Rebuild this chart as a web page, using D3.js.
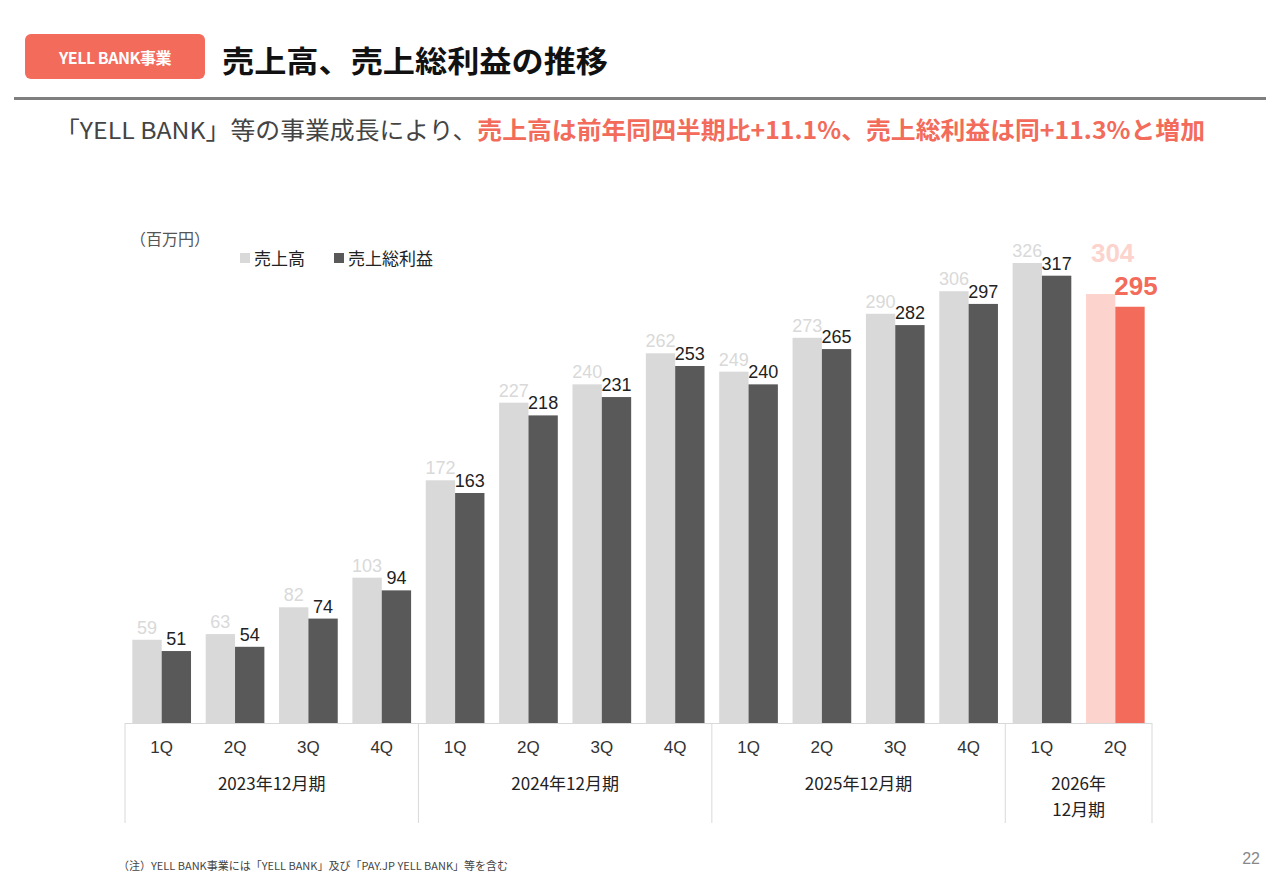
<!DOCTYPE html>
<html><head><meta charset="utf-8">
<script src="https://cdn.jsdelivr.net/npm/d3@7"></script>
<style>body{margin:0;background:#fff}svg{font-family:"Noto Sans CJK JP","Liberation Sans",sans-serif}</style>
</head><body><svg id="c" width="1280" height="886"></svg>
<script>
const quarters=["1Q","2Q","3Q","4Q","1Q","2Q","3Q","4Q","1Q","2Q","3Q","4Q","1Q","2Q"];
const sales=[59,63,82,103,172,227,240,262,249,273,290,306,326,304];
const gross=[51,54,74,94,163,218,231,253,240,265,282,297,317,295];
const years=[["2023年12月期"],["2024年12月期"],["2025年12月期"],["2026年","12月期"]];
const yearSpans=[4,4,4,2];

const g=d3.select("#c");
g.append("rect").attr("x",25).attr("y",34).attr("width",180).attr("height",45).attr("rx",6).attr("fill","#f26b5b");
g.append("text").attr("x",115).attr("y",64).attr("text-anchor","middle").attr("fill","#fff").attr("font-size",16).attr("font-weight","bold").attr("letter-spacing",-0.5).text("YELL BANK事業");
g.append("text").attr("x",222).attr("y",72).attr("font-size",30).attr("font-weight","bold").attr("fill","#111").attr("textLength",386).attr("lengthAdjust","spacingAndGlyphs").text("売上高、売上総利益の推移");
g.append("rect").attr("x",14).attr("y",97).attr("width",1252).attr("height",3).attr("fill","#7f7f7f");
const s2=g.append("text").attr("x",55).attr("y",139).attr("font-size",23.5).attr("textLength",1150).attr("lengthAdjust","spacingAndGlyphs");
s2.append("tspan").attr("fill","#444").text("「YELL BANK」等の事業成長により、");
s2.append("tspan").attr("fill","#f26b5b").attr("font-weight","bold").text("売上高は前年同四半期比+11.1%、売上総利益は同+11.3%と増加");

const x=d3.scaleBand().domain(d3.range(14)).range([125,1152]).paddingInner(0.2).paddingOuter(0.1);
const y=d3.scaleLinear().domain([0,326]).range([723,263]);
const bw=x.bandwidth()/2;
const last=13;
quarters.forEach((q,i)=>{
  const x0=x(i);
  g.append("rect").attr("x",x0).attr("y",y(sales[i])).attr("width",bw).attr("height",y(0)-y(sales[i])).attr("fill",i==last?"#fdd3cd":"#d9d9d9");
  g.append("rect").attr("x",x0+bw).attr("y",y(gross[i])).attr("width",bw).attr("height",y(0)-y(gross[i])).attr("fill",i==last?"#f26b5b":"#595959");
  if(i==last){
    g.append("text").attr("x",x0+bw/2+12).attr("y",y(sales[i])-32).attr("text-anchor","middle").attr("font-size",26).attr("font-weight","bold").attr("fill","#fdd3cd").attr("font-family","Liberation Sans").text(sales[i]);
    g.append("text").attr("x",x0+bw*1.5+6).attr("y",y(gross[i])-12).attr("text-anchor","middle").attr("font-size",26).attr("font-weight","bold").attr("fill","#f26b5b").attr("font-family","Liberation Sans").text(gross[i]);
  } else {
    g.append("text").attr("x",x0+bw/2).attr("y",y(sales[i])-6).attr("text-anchor","middle").attr("font-size",18).attr("fill","#d9d9d9").attr("font-family","Liberation Sans").text(sales[i]);
    g.append("text").attr("x",x0+bw*1.5).attr("y",y(gross[i])-6).attr("text-anchor","middle").attr("font-size",18).attr("fill","#222").attr("font-family","Liberation Sans").text(gross[i]);
  }
  g.append("text").attr("x",x0+bw).attr("y",753).attr("text-anchor","middle").attr("font-size",17).attr("fill","#333").attr("font-family","Liberation Sans").text(q);
});
const step=x.step();
g.append("line").attr("x1",125).attr("x2",1152).attr("y1",723.5).attr("y2",723.5).attr("stroke","#d9d9d9");
let idx=0;
const bounds=[125];
yearSpans.forEach(s=>{idx+=s;bounds.push(125+idx*step);});
bounds.forEach(b=>g.append("line").attr("x1",b).attr("x2",b).attr("y1",723).attr("y2",823).attr("stroke","#d9d9d9"));
years.forEach((lines,k)=>{
  const cx=(bounds[k]+bounds[k+1])/2;
  lines.forEach((t,j)=>g.append("text").attr("x",cx).attr("y",790+j*26).attr("text-anchor","middle").attr("font-size",17).attr("fill","#222").text(t));
});
g.append("text").attr("x",130).attr("y",245).attr("font-size",16).attr("fill","#555").text("（百万円）");
g.append("rect").attr("x",240).attr("y",253).attr("width",10).attr("height",10).attr("fill","#d9d9d9");
g.append("text").attr("x",254).attr("y",265).attr("font-size",17).attr("fill","#222").text("売上高");
g.append("rect").attr("x",334).attr("y",253).attr("width",10).attr("height",10).attr("fill","#595959");
g.append("text").attr("x",348).attr("y",265).attr("font-size",17).attr("fill","#222").text("売上総利益");
g.append("text").attr("x",118).attr("y",870).attr("font-size",11).attr("fill","#444").text("（注）YELL BANK事業には「YELL BANK」及び「PAY.JP YELL BANK」等を含む");
g.append("text").attr("x",1260).attr("y",864).attr("text-anchor","end").attr("font-size",16).attr("fill","#888").attr("font-family","Liberation Sans").text("22");
</script></body></html>
